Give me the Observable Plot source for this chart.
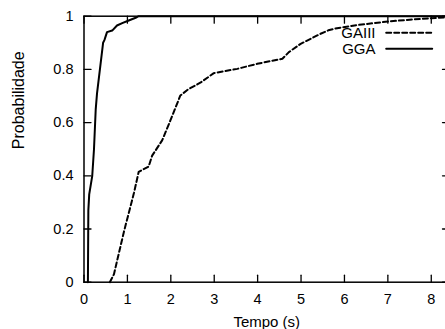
<!DOCTYPE html>
<html>
<head>
<meta charset="utf-8">
<script src="https://cdn.jsdelivr.net/npm/d3@7"></script>
<script src="https://cdn.jsdelivr.net/npm/@observablehq/plot@0.6"></script>
<style>
  html, body { margin: 0; padding: 0; overflow: hidden; background: #fff; }
  #wrap { width: 445px; height: 329px; overflow: hidden; }
  svg text { font-family: "Liberation Sans", Arial, Helvetica, sans-serif; }
</style>
</head>
<body>
<div id="wrap"></div>
<script>
// Series: cumulative probability vs time (s)
const gaiiiTime = [0.595, 0.69, 0.92, 1.15, 1.26, 1.49, 1.57, 1.80, 1.99, 2.22, 2.40, 2.68, 2.99, 3.53, 3.99, 4.57, 4.72, 4.99, 5.45, 5.63, 5.83, 6.30, 7.00, 7.50, 8.42];
const gaiiiProb = [0.0, 0.03, 0.19, 0.335, 0.415, 0.435, 0.476, 0.533, 0.608, 0.702, 0.725, 0.75, 0.786, 0.802, 0.821, 0.84, 0.865, 0.896, 0.934, 0.947, 0.955, 0.967, 0.98, 0.987, 0.997];

const ggaTime = [0.09, 0.10, 0.12, 0.19, 0.23, 0.27, 0.30, 0.44, 0.47, 0.53, 0.65, 0.76, 0.88, 1.03, 1.19, 1.26, 8.42];
const ggaProb = [0.0, 0.27, 0.33, 0.40, 0.50, 0.65, 0.71, 0.90, 0.91, 0.94, 0.946, 0.965, 0.974, 0.984, 0.994, 1.0, 1.0];

const seriesNames = ["GAIII", "GGA"];
const xTicks = [0, 1, 2, 3, 4, 5, 6, 7, 8];
const yTicks = [0, 0.2, 0.4, 0.6, 0.8, 1];
const xLabel = "Tempo (s)";
const yLabel = "Probabilidade";

const gaiii = gaiiiTime.map((t, i) => ({t, p: gaiiiProb[i]}));
const gga = ggaTime.map((t, i) => ({t, p: ggaProb[i]}));

const W = 451, H = 329;
const mL = 83.5, mR = 2, mT = 15.7, mB = 47.3;
const plotW = W - mL - mR, plotH = H - mT - mB;
const dashes = "5,3";
const tickLen = 7;
const tickStroke = {stroke: "#000", strokeWidth: 1.3};

const segment = {draw(context, length) { context.moveTo(0, 0); context.lineTo(0, -length); }};

function baseMarks() {
  return [
    Plot.line(gaiii, {x: "t", y: "p", stroke: "#000", strokeWidth: 2, strokeDasharray: dashes}),
    Plot.line(gga, {x: "t", y: "p", stroke: "#000", strokeWidth: 2}),
    Plot.frame({stroke: "#000", strokeWidth: 1.5}),
    Plot.axisX(xTicks, {anchor: "bottom", tickSize: 0, tickPadding: 11.3, label: null, fontSize: 14.5, tickFormat: d => String(d)}),
    Plot.axisY(yTicks, {anchor: "left", tickSize: 0, tickPadding: 10.5, label: null, fontSize: 14.5, tickFormat: d => String(d)}),
    Plot.text([xLabel], {frameAnchor: "bottom", dy: 40, fontSize: 15, lineAnchor: "middle", fill: "#000"}),
    Plot.text([yLabel], {frameAnchor: "left", dx: -65.5, rotate: -90, fontSize: 16, lineAnchor: "middle", fill: "#000"}),
    // legend labels
    Plot.text([seriesNames[0]], {frameAnchor: "top-right", dx: -74, dy: 16.6, textAnchor: "end", lineAnchor: "middle", fontSize: 15, fill: "#000"}),
    Plot.text([seriesNames[1]], {frameAnchor: "top-right", dx: -74, dy: 32.6, textAnchor: "end", lineAnchor: "middle", fontSize: 15, fill: "#000"})
  ];
}

// inward ticks on all four sides, as short vector segments
const vectorTicks = [
  Plot.vector(xTicks, {x: d => d, frameAnchor: "bottom", length: tickLen, rotate: 0, anchor: "start", shape: segment, ...tickStroke}),
  Plot.vector(xTicks, {x: d => d, frameAnchor: "top", length: tickLen, rotate: 180, anchor: "start", shape: segment, ...tickStroke}),
  Plot.vector(yTicks, {y: d => d, frameAnchor: "left", length: tickLen, rotate: 90, anchor: "start", shape: segment, ...tickStroke}),
  Plot.vector(yTicks, {y: d => d, frameAnchor: "right", length: tickLen, rotate: -90, anchor: "start", shape: segment, ...tickStroke})
];
const ruleTicks = [
  Plot.ruleX(xTicks, {x: d => d, insetTop: plotH - tickLen, ...tickStroke}),
  Plot.ruleX(xTicks, {x: d => d, insetBottom: plotH - tickLen, ...tickStroke}),
  Plot.ruleY(yTicks, {y: d => d, insetRight: plotW - tickLen, ...tickStroke}),
  Plot.ruleY(yTicks, {y: d => d, insetLeft: plotW - tickLen, ...tickStroke})
];

const legendVectors = [
  Plot.vector([seriesNames[0]], {frameAnchor: "top-right", dx: -63.3, dy: 16.6, length: 46, rotate: 90, anchor: "start", shape: segment, stroke: "#000", strokeWidth: 2, strokeDasharray: dashes}),
  Plot.vector([seriesNames[1]], {frameAnchor: "top-right", dx: -63.3, dy: 32.6, length: 46, rotate: 90, anchor: "start", shape: segment, stroke: "#000", strokeWidth: 2})
];
const legendRules = [
  Plot.ruleY([1], {dy: 16.6, insetLeft: plotW - 63.3, insetRight: 17.3, stroke: "#000", strokeWidth: 2, strokeDasharray: dashes}),
  Plot.ruleY([1], {dy: 32.6, insetLeft: plotW - 63.3, insetRight: 17.3, stroke: "#000", strokeWidth: 2})
];

function make(extra) {
  return Plot.plot({
    width: W,
    height: H,
    marginLeft: mL,
    marginRight: mR,
    marginTop: mT,
    marginBottom: mB,
    style: {background: "#fff", color: "#000", overflow: "visible", maxWidth: "none"},
    x: {domain: [0, 8.42], ticks: xTicks},
    y: {domain: [0, 1], ticks: yTicks},
    marks: [...baseMarks(), ...extra]
  });
}

let chart;
try { chart = make([...vectorTicks, ...legendVectors]); }
catch (e) { chart = make([...ruleTicks, ...legendRules]); }
document.getElementById("wrap").appendChild(chart);
</script>
</body>
</html>
